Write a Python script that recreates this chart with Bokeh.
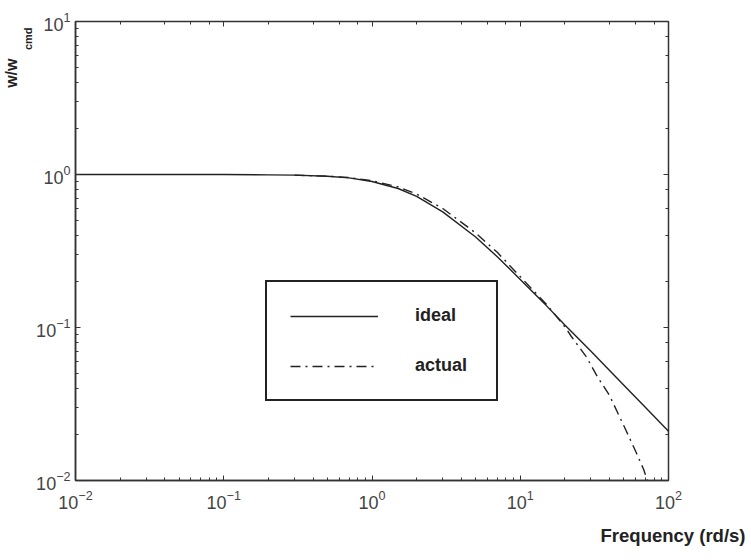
from bokeh.plotting import figure
from bokeh.models import LogAxis, Legend, LegendItem, LogTicker, Title
from bokeh.embed import file_html
from bokeh.resources import INLINE

# ---- data ----
freq_ideal = [0.01, 0.03, 0.1, 0.2, 0.3, 0.5, 0.7, 1.0, 1.5, 2.0, 3.0, 5.0, 7.0,
              10.0, 15.0, 20.0, 30.0, 50.0, 70.0, 100.0]
w_ideal = [1.0, 1.0, 0.999, 0.995, 0.99, 0.973, 0.95, 0.90, 0.81, 0.72, 0.57,
           0.39, 0.29, 0.206, 0.139, 0.104, 0.070, 0.042, 0.030, 0.021]

freq_actual = [0.3, 0.5, 0.7, 1.0, 1.5, 2.0, 3.0, 5.0, 7.0, 10.0, 15.0, 20.0,
               22.0, 28.0, 33.0, 40.0, 46.0, 52.0, 61.0, 68.0, 72.0]
w_actual = [0.99, 0.975, 0.955, 0.91, 0.83, 0.745, 0.60, 0.415, 0.31, 0.215,
            0.142, 0.101, 0.088, 0.064, 0.048, 0.036, 0.027, 0.021, 0.015,
            0.0118, 0.0100]

series_names = ["ideal", "actual"]
x_title = "Frequency (rd/s)"
y_title_main = "w/w"
y_title_sub = "cmd"

INK = "#333333"

p = figure(width=750, height=556, x_axis_type="log", y_axis_type="log",
           x_range=(0.01, 100), y_range=(0.01, 10),
           output_backend="svg", toolbar_location=None,
           min_border_left=75, min_border_right=82,
           min_border_top=21, min_border_bottom=72)

p.background_fill_color = "white"
p.border_fill_color = "white"
p.outline_line_color = INK
p.outline_line_width = 1.5
p.xgrid.visible = False
p.ygrid.visible = False

for ax in (p.xaxis[0], p.yaxis[0]):
    ax.axis_line_color = INK
    ax.axis_line_width = 1.5
    ax.major_tick_in = 5
    ax.major_tick_out = 0
    ax.minor_tick_in = 3
    ax.minor_tick_out = 0
    ax.major_tick_line_color = INK
    ax.minor_tick_line_color = INK
    ax.major_label_text_font = "Liberation Sans"
    ax.major_label_text_font_size = "18px"
    ax.major_label_text_color = "#444444"

p.xaxis[0].major_label_standoff = 9
p.yaxis[0].major_label_standoff = 5

# tick-only axes on top and right
for side in ("above", "right"):
    ax = LogAxis(ticker=LogTicker())
    ax.axis_line_color = None
    ax.major_tick_in = 5
    ax.major_tick_out = 0
    ax.minor_tick_in = 3
    ax.minor_tick_out = 0
    ax.major_tick_line_color = INK
    ax.minor_tick_line_color = INK
    ax.major_label_text_font_size = "2px"
    ax.major_label_text_alpha = 0
    ax.major_label_standoff = 0
    p.add_layout(ax, side)

r_ideal = p.line(freq_ideal, w_ideal, line_color="#222222", line_width=1.4)
r_actual = p.line(freq_actual, w_actual, line_color="#222222", line_width=1.4,
                  line_dash="10 5 2 5")

legend = Legend(items=[LegendItem(label=series_names[0], renderers=[r_ideal]),
                       LegendItem(label=series_names[1], renderers=[r_actual])],
                location=(190, 79))
legend.padding = 23
legend.spacing = 29
legend.glyph_width = 88
legend.glyph_height = 14
legend.label_height = 14
legend.label_width = 58
legend.label_standoff = 37
legend.label_text_font = "Liberation Sans"
legend.label_text_font_style = "bold"
legend.label_text_font_size = "18px"
legend.label_text_color = "#222222"
legend.border_line_color = "#222222"
legend.border_line_alpha = 1.0
legend.border_line_width = 2
legend.background_fill_color = "white"
legend.background_fill_alpha = 1.0
legend.margin = 0
p.add_layout(legend, "center")

# axis titles as side-panel titles
p.add_layout(Title(text=x_title, align="right", offset=-77, standoff=22,
                   text_font="Liberation Sans", text_font_style="bold",
                   text_font_size="18.5px", text_color="#222222"), "below")

p.add_layout(Title(text=y_title_sub, align="right", offset=6, standoff=0,
                   text_font="Liberation Sans", text_font_style="bold",
                   text_font_size="11px", text_color="#222222"), "left")
p.add_layout(Title(text=y_title_main, align="right", offset=37, standoff=0,
                   text_font="Liberation Sans", text_font_style="bold",
                   text_font_size="16px", text_color="#222222"), "left")

open("out.html", "w").write(file_html(p, INLINE))
